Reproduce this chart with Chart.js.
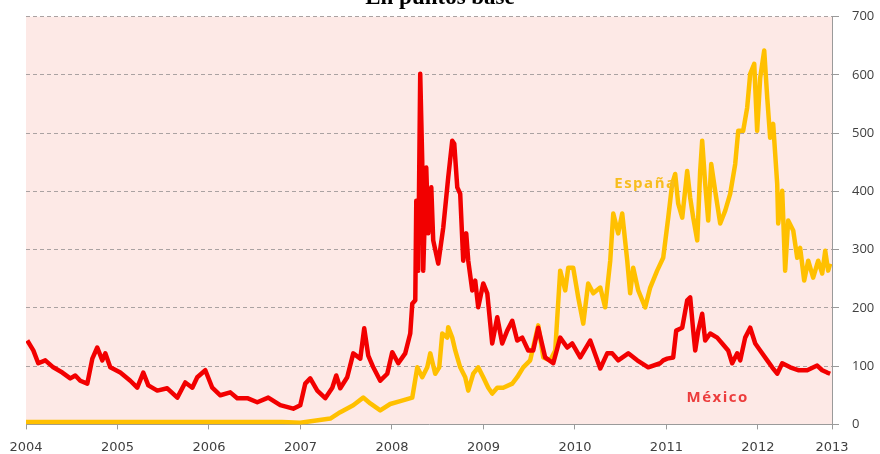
<!DOCTYPE html>
<html lang="es">
<head>
<meta charset="utf-8">
<title>En puntos base</title>
<script src="https://cdn.jsdelivr.net/npm/chart.js@4/dist/chart.umd.min.js"></script>
<style>
  html, body { margin: 0; padding: 0; background: #ffffff; }
  #wrap { position: relative; width: 880px; height: 454px; }
</style>
</head>
<body>
<div id="wrap"><canvas id="cds"></canvas></div>
<script>
// CDS spreads in basis points, x in decimal years
const yearTicks = [2004, 2005, 2006, 2007, 2008, 2009, 2010, 2011, 2012, 2013];
const xStart = 2004;
const xEnd = 2012.81;   // last observation; the "2013" label sits at the window's end

const mexicoYears = [
  2004.014, 2004.080, 2004.134, 2004.211, 2004.298, 2004.397, 2004.484, 2004.539, 2004.593, 2004.670,
  2004.725, 2004.779, 2004.834, 2004.867, 2004.921, 2005.031, 2005.140, 2005.216, 2005.282, 2005.337,
  2005.435, 2005.544, 2005.654, 2005.741, 2005.818, 2005.872, 2005.960, 2006.036, 2006.124, 2006.233,
  2006.309, 2006.419, 2006.528, 2006.648, 2006.779, 2006.921, 2006.998, 2007.052, 2007.107, 2007.184,
  2007.271, 2007.348, 2007.391, 2007.435, 2007.511, 2007.577, 2007.654, 2007.697, 2007.741, 2007.796,
  2007.872, 2007.949, 2008.003, 2008.069, 2008.145, 2008.200, 2008.222, 2008.255, 2008.266, 2008.287,
  2008.309, 2008.331, 2008.342, 2008.375, 2008.397, 2008.430, 2008.451, 2008.506, 2008.561, 2008.615,
  2008.659, 2008.681, 2008.714, 2008.746, 2008.779, 2008.812, 2008.834, 2008.878, 2008.910, 2008.943,
  2008.998, 2009.042, 2009.096, 2009.151, 2009.205, 2009.260, 2009.315, 2009.369, 2009.424, 2009.490,
  2009.544, 2009.599, 2009.675, 2009.763, 2009.839, 2009.916, 2009.970, 2010.058, 2010.167, 2010.277,
  2010.353, 2010.408, 2010.473, 2010.583, 2010.681, 2010.801, 2010.932, 2010.965, 2011.009, 2011.074,
  2011.107, 2011.173, 2011.227, 2011.260, 2011.293, 2011.315, 2011.348, 2011.391, 2011.424, 2011.479,
  2011.555, 2011.610, 2011.675, 2011.719, 2011.774, 2011.807, 2011.861, 2011.916, 2011.971, 2012.025,
  2012.102, 2012.156, 2012.211, 2012.266, 2012.353, 2012.440, 2012.539, 2012.648, 2012.703, 2012.757,
  2012.790
];
const mexicoValues = [
  144, 127, 105, 110, 98, 89, 79, 84, 75, 70,
  113, 132, 110, 122, 98, 89, 75, 63, 89, 67,
  58, 62, 46, 72, 63, 81, 93, 63, 50, 55,
  45, 45, 38, 46, 33, 27, 33, 70, 79, 58,
  45, 63, 84, 62, 81, 122, 113, 165, 118, 98,
  75, 87, 124, 105, 122, 156, 207, 213, 384, 264,
  602, 453, 264, 441, 328, 407, 316, 276, 338, 424,
  487, 482, 407, 396, 281, 328, 281, 230, 247, 201,
  242, 225, 139, 184, 139, 161, 178, 144, 149, 127,
  127, 166, 115, 105, 149, 132, 139, 115, 144, 96,
  122, 122, 110, 122, 110, 98, 105, 110, 113, 115,
  161, 166, 213, 218, 161, 127, 161, 190, 144, 156,
  149, 139, 127, 105, 122, 110, 149, 166, 139, 127,
  110, 98, 87, 105, 98, 93, 93, 101, 93, 89,
  87
];

const espanaYears = [
  2004.000, 2004.500, 2005.000, 2005.500, 2006.000, 2006.500, 2006.800, 2006.998, 2007.326, 2007.435,
  2007.577, 2007.686, 2007.763, 2007.872, 2007.981, 2008.091, 2008.222, 2008.277, 2008.331, 2008.386,
  2008.419, 2008.473, 2008.517, 2008.550, 2008.604, 2008.615, 2008.659, 2008.692, 2008.746, 2008.801,
  2008.834, 2008.889, 2008.943, 2008.998, 2009.053, 2009.096, 2009.151, 2009.216, 2009.315, 2009.369,
  2009.435, 2009.511, 2009.599, 2009.654, 2009.730, 2009.785, 2009.839, 2009.894, 2009.927, 2009.981,
  2010.036, 2010.091, 2010.145, 2010.200, 2010.277, 2010.331, 2010.386, 2010.419, 2010.473, 2010.517,
  2010.572, 2010.604, 2010.637, 2010.692, 2010.768, 2010.823, 2010.899, 2010.965, 2011.020, 2011.063,
  2011.096, 2011.129, 2011.173, 2011.227, 2011.260, 2011.293, 2011.337, 2011.369, 2011.391, 2011.424,
  2011.457, 2011.490, 2011.533, 2011.588, 2011.643, 2011.697, 2011.752, 2011.785, 2011.839, 2011.883,
  2011.916, 2011.960, 2011.992, 2012.025, 2012.069, 2012.102, 2012.134, 2012.167, 2012.211, 2012.222,
  2012.266, 2012.298, 2012.331, 2012.386, 2012.430, 2012.462, 2012.506, 2012.550, 2012.604, 2012.659,
  2012.703, 2012.736, 2012.768, 2012.790
];
const espanaValues = [
  4, 4, 4, 4, 4, 4, 4, 3, 10, 21,
  33, 46, 36, 24, 35, 40, 46, 98, 81, 98,
  122, 87, 98, 156, 149, 167, 149, 127, 98, 81,
  58, 87, 98, 81, 63, 53, 63, 63, 70, 81,
  98, 110, 170, 115, 110, 127, 264, 230, 269, 269,
  218, 173, 242, 225, 235, 201, 281, 362, 328, 362,
  281, 225, 269, 230, 201, 235, 264, 286, 355, 413,
  430, 379, 355, 435, 389, 355, 316, 435, 487, 413,
  350, 447, 401, 345, 367, 396, 447, 504, 504, 544,
  602, 619, 504, 595, 642, 561, 492, 516, 413, 345,
  401, 264, 350, 333, 286, 303, 247, 281, 252, 281,
  259, 298, 264, 276
];

const RED = '#f20000';
const GOLD = '#ffc000';

const toPoints = (xs, ys) => xs.map((x, i) => ({ x: x, y: ys[i] }));

// Pink plot background
const plotBackground = {
  id: 'plotBackground',
  beforeDraw(chart) {
    const { ctx, chartArea: a } = chart;
    ctx.save();
    ctx.fillStyle = '#fde9e6';
    ctx.fillRect(a.left, a.top, a.right - a.left, a.bottom - a.top);
    ctx.restore();
  }
};

// Series names written next to their lines
const seriesNames = [
  { text: 'España', year: 2010.43, value: 414, color: '#f7bd1e' },
  { text: 'México', year: 2011.22, value: 46, color: '#ec3d3d' }
];
const seriesLabels = {
  id: 'seriesLabels',
  afterDatasetsDraw(chart) {
    const { ctx, scales } = chart;
    ctx.save();
    ctx.font = 'bold 15px "Open Sans", sans-serif';
    ctx.letterSpacing = '1.5px';
    ctx.textAlign = 'left';
    ctx.textBaseline = 'middle';
    seriesNames.forEach(n => {
      ctx.fillStyle = n.color;
      ctx.fillText(n.text, scales.x.getPixelForValue(n.year), scales.y.getPixelForValue(n.value));
    });
    ctx.restore();
  }
};

new Chart(document.getElementById('cds'), {
  type: 'line',
  data: {
    datasets: [
      {
        label: 'México',
        data: toPoints(mexicoYears, mexicoValues),
        borderColor: RED,
        backgroundColor: RED,
        borderWidth: 4.5,
        pointRadius: 0,
        tension: 0,
        borderJoinStyle: 'round',
        order: 1
      },
      {
        label: 'España',
        data: toPoints(espanaYears, espanaValues),
        borderColor: GOLD,
        backgroundColor: GOLD,
        borderWidth: 4.5,
        pointRadius: 0,
        tension: 0,
        borderJoinStyle: 'round',
        order: 2
      }
    ]
  },
  options: {
    responsive: true,
    maintainAspectRatio: false,
    animation: false,
    layout: { padding: { left: 0, right: 0, top: 0, bottom: -11 } },
    plugins: {
      legend: { display: false },
      tooltip: { enabled: false },
      title: {
        display: true,
        text: 'En puntos base',
        color: '#000000',
        font: { family: '"Liberation Serif", "Times New Roman", serif', size: 23, weight: 'bold' },
        padding: { top: -16, bottom: 5.1 }
      }
    },
    scales: {
      x: {
        type: 'linear',
        min: xStart,
        max: xEnd,
        afterBuildTicks(axis) {
          axis.ticks = yearTicks.map(v => ({ value: Math.min(v, xEnd), label: String(v) }));
        },
        afterFit(axis) { axis.paddingLeft = 26; },
        ticks: {
          color: '#404040',
          font: { family: '"DejaVu Sans", sans-serif', size: 13 },
          padding: 10,
          maxRotation: 0,
          autoSkip: false,
          callback: (v, i) => String(yearTicks[i])
        },
        grid: { drawOnChartArea: false, drawTicks: true, tickLength: 5, tickColor: '#9a9a9a' },
        border: { color: '#9a9a9a', width: 1 }
      },
      y: {
        position: 'right',
        min: 0,
        max: 700,
        afterFit(axis) { axis.width = 48; axis.paddingTop = 0; axis.paddingBottom = 0; },
        ticks: {
          stepSize: 100,
          color: '#404040',
          font: { family: '"Open Sans", sans-serif', size: 13 },
          padding: 13
        },
        grid: { color: '#aaa2a2', lineWidth: 1, tickLength: 7, tickColor: '#9a9a9a' },
        border: { color: '#9a9a9a', width: 1, dash: [4, 3] }
      }
    }
  },
  plugins: [plotBackground, seriesLabels]
});
</script>
</body>
</html>
